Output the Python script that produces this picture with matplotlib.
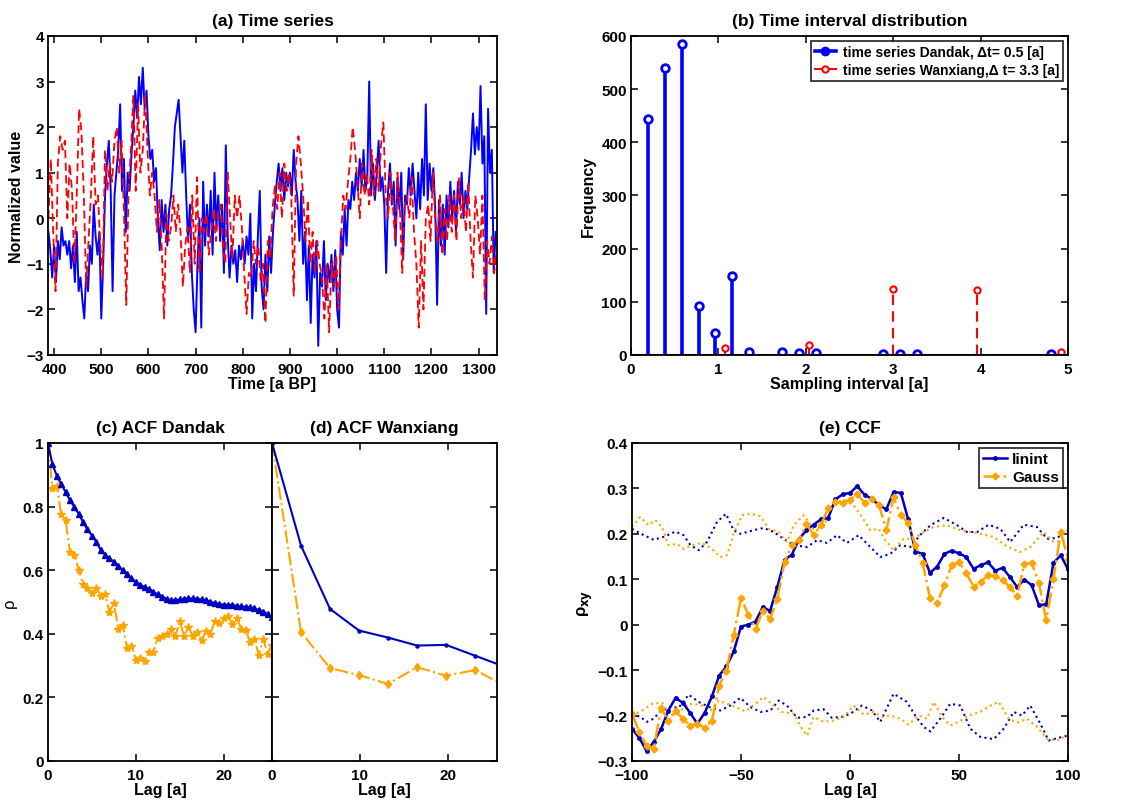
import numpy as np
import matplotlib
matplotlib.use("Agg")
import matplotlib.pyplot as plt
from matplotlib.lines import Line2D

plt.rcParams['font.family'] = ['Liberation Sans', 'DejaVu Sans']
plt.rcParams['font.weight'] = 'bold'
plt.rcParams['axes.labelweight'] = 'bold'
plt.rcParams['axes.titleweight'] = 'bold'
plt.rcParams['mathtext.fontset'] = 'dejavusans'
plt.rcParams['axes.linewidth'] = 1.3
for ax_ in ('xtick', 'ytick'):
    plt.rcParams[f'{ax_}.direction'] = 'in'
    plt.rcParams[f'{ax_}.major.size'] = 5
    plt.rcParams[f'{ax_}.major.width'] = 1.1
    plt.rcParams[f'{ax_}.labelsize'] = 11
plt.rcParams['xtick.top'] = True
plt.rcParams['ytick.right'] = True

BLUE = '#0000FF'
RED = '#FF0000'
DBLUE = '#0000C0'
ORANGE = '#FFA500'

# ---------------- (a) time series ----------------
dandak_time = np.arange(388, 1337, 4)
dandak_value = [
    -0.3, -0.7, -1.3, -0.6, -1.4, -0.5, -0.9, -0.2, -0.6, -0.5,
    -0.8, -0.5, -1.1, -0.6, -1.4, -0.3, -1.6, -1.3, -1.8, -2.2,
    -1.2, -1.6, -0.6, -1.0, 0.3, -0.4, -0.8, -0.3, -2.2, -1.0,
    0.5, 1.2, 1.7, 0.6, -1.6, 0.5, 1.0, 1.5, 2.5, 0.6,
    1.3, -0.3, 1.0, 0.6, 1.4, 2.0, 2.8, 2.2, 3.1, 2.5,
    3.3, 2.4, 2.8, 1.8, 1.3, 1.5, 0.8, 1.1, 0.0, -0.7,
    0.4, -0.3, 0.3, -0.6, 0.2, 0.5, 1.2, 2.0, 2.3, 2.6,
    1.8, 1.0, 1.7, 0.5, -0.5, 0.3, -1.2, -2.0, -2.5, -1.0,
    0.0, -2.4, 0.8, -0.6, 0.3, -0.4, 0.6, -0.8, 1.0, -0.2,
    0.5, -0.5, 0.3, -1.2, 1.6, -0.4, -1.3, -0.6, -1.0, -0.7,
    -1.4, -0.6, -0.9, -0.5, -1.0, -0.4, -0.8, 0.1, -2.2, -1.0,
    -1.6, -0.4, 0.6, -1.5, -2.0, -0.8, -1.6, -0.4, -1.2, -0.3,
    0.3, 0.8, 1.2, 0.6, 1.1, 0.4, 1.0, 0.7, 1.0, 0.5,
    1.5, 0.8, 0.4, -0.5, 0.6, -1.0, -0.3, -1.8, -0.6, -2.3,
    -0.8, -1.3, -0.5, -2.8, -1.2, -1.5, -0.5, -1.8, -1.0, -1.4,
    -0.8, -1.6, -0.7, -2.0, -2.4, -0.3, -0.8, 0.2, -0.6, 0.4,
    0.2, 0.8, 0.4, 1.0, 0.6, 1.3, 0.7, 1.5, 0.6, 0.9,
    3.0, 0.5, 1.2, 0.4, 1.0, 1.7, 0.6, 0.9, 0.3, -1.2,
    0.6, 1.2, 0.3, 0.8, -0.6, 0.9, 0.2, 1.0, -0.9, 0.5,
    0.3, 1.1, 0.5, 1.2, 0.6, 0.0, 1.0, 0.2, 1.3, 0.5,
    2.5, 0.4, 1.2, 0.6, 1.1, 0.2, -1.9, 0.4, -0.6, 0.3,
    -0.8, 0.5, -0.2, 0.8, 0.0, 0.6, -0.3, 0.8, 0.3, 1.0,
    0.0, 0.6, 0.2, 0.9, 1.5, 2.3, 1.4, 2.0, 1.5, 2.9,
    1.2, 1.8, -2.1, 2.4, 1.0, 1.5, -1.2, -0.3,
]

wanxiang_time = np.arange(388, 1339, 5)
wanxiang_value = [
    0.0, 1.3, -0.3, -1.6, 1.2, 1.8, 1.5, 1.7, 0.0, 1.2,
    0.6, -1.0, 0.5, 2.4, 1.9, 0.5, -1.5, -0.5, 0.5, 1.8,
    0.3, 0.5, -0.6, -1.3, 1.5, 0.6, 1.2, 0.8, 1.7, 2.0,
    1.0, 1.7, 0.2, -1.9, 0.7, 1.5, 2.7, 0.6, 2.5, 1.0,
    1.5, 2.7, 1.5, 0.5, 1.0, 0.5, -0.3, 0.4, -0.6, -2.2,
    0.1, -0.5, -0.2, 0.5, -0.3, 0.3, -0.3, -1.5, -0.6, -0.2,
    -1.2, 0.5, -1.0, 0.9, -1.2, 0.0, -0.3, 0.1, -0.8, -0.3,
    0.2, -0.5, 0.2, 0.3, -0.7, -1.0, 1.0, 0.0, -0.9, 0.5,
    0.0, 0.5, -0.2, -1.2, -2.1, -1.2, -1.3, -0.5, -1.0, -0.6,
    -1.4, -1.0, -2.3, -0.5, -0.9, 0.2, 0.7, 0.2, 1.0, 0.0,
    1.2, 0.6, 1.0, 0.4, -1.7, 1.2, 1.8, 1.2, 0.5, -0.5,
    0.4, -1.0, -0.3, -1.2, -0.5, -1.0, -1.3, -2.2, -1.0, -2.5,
    -1.0, -1.5, -0.8, -2.0, -0.5, 0.5, 0.2, 0.8, 1.3, 2.0,
    1.5, 0.8, 0.0, 1.2, 0.5, 1.0, 0.3, 1.5, 0.5, 1.3,
    0.6, 1.6, 2.1, 0.5, 0.0, 1.0, 0.3, -0.5, 1.0, 0.2,
    -1.2, 0.3, 0.5, 0.0, 0.9, -0.3, -1.0, -2.4, -0.5, -2.0,
    0.0, 0.3, -0.5, 1.0, 0.0, -0.5, 0.5, -0.8, 0.2, -0.5,
    0.5, -0.3, 0.5, -0.5, 0.9, 0.0, 0.5, -0.3, 0.8, -0.5,
    -1.3, 0.5, 0.0, -0.8, 0.5, -1.8, -0.5, -1.0, -0.4, -1.2,
    -0.7,
]

# ---------------- (b) sampling interval distribution ----------------
dandak_interval = [0.195, 0.389, 0.58, 0.774, 0.965, 1.156, 1.35, 1.73,
                   1.926, 2.117, 2.883, 3.074, 3.268, 4.80]
dandak_count = [444, 540, 584, 93, 41, 149, 6, 6, 4, 4, 1, 2, 1, 1]
wanxiang_interval = [1.075, 2.037, 2.998, 3.959, 4.92]
wanxiang_count = [12.6, 19, 125, 123, 5]

# ---------------- (c) ACF Dandak ----------------
acf_d_lag = np.arange(0, 25.51, 0.5)
acf_d_linint = [
    1.0, 0.934, 0.897, 0.871, 0.846, 0.82, 0.799, 0.777, 0.751, 0.728,
    0.709, 0.69, 0.664, 0.648, 0.637, 0.627, 0.614, 0.60, 0.587, 0.574,
    0.563, 0.553, 0.548, 0.54, 0.532, 0.524, 0.517, 0.51, 0.505, 0.506,
    0.508, 0.51, 0.511, 0.511, 0.51, 0.508, 0.505, 0.50, 0.497, 0.493,
    0.492, 0.491, 0.49, 0.488, 0.486, 0.485, 0.483, 0.48, 0.475, 0.47,
    0.462, 0.452,
]
acf_d_gauss = [
    1.0, 0.857, 0.865, 0.777, 0.758, 0.657, 0.648, 0.60, 0.556, 0.545,
    0.528, 0.545, 0.519, 0.524, 0.47, 0.497, 0.415, 0.429, 0.355, 0.363,
    0.319, 0.323, 0.313, 0.344, 0.342, 0.388, 0.392, 0.40, 0.415, 0.392,
    0.44, 0.393, 0.42, 0.392, 0.405, 0.379, 0.41, 0.40, 0.44, 0.435,
    0.451, 0.456, 0.43, 0.451, 0.415, 0.413, 0.373, 0.384, 0.334, 0.385,
    0.337, 0.365,
]

# ---------------- (d) ACF Wanxiang ----------------
acf_w_lag = [0, 3.3, 6.6, 9.9, 13.2, 16.5, 19.8, 23.1, 26.4]
acf_w_linint = [1.0, 0.677, 0.478, 0.41, 0.388, 0.363, 0.365, 0.331, 0.297]
acf_w_gauss = [1.0, 0.405, 0.292, 0.27, 0.242, 0.295, 0.268, 0.286, 0.238]

# ---------------- (e) CCF ----------------
ccf_lag = np.linspace(-100, 100, 61)
ccf_linint = [
    -0.229, -0.249, -0.278, -0.258, -0.230, -0.189, -0.161, -0.172, -0.194, -0.218,
    -0.194, -0.158, -0.112, -0.092, -0.059, -0.004, 0.0, 0.007, 0.039, 0.030,
    0.083, 0.143, 0.154, 0.189, 0.208, 0.22, 0.232, 0.235, 0.276, 0.287,
    0.29, 0.305, 0.286, 0.277, 0.263, 0.254, 0.292, 0.29, 0.232, 0.161,
    0.156, 0.114, 0.128, 0.156, 0.163, 0.157, 0.149, 0.123, 0.131, 0.137,
    0.119, 0.125, 0.105, 0.083, 0.099, 0.087, 0.043, 0.045, 0.136, 0.153, 0.122,
]
ccf_gauss = [
    -0.196, -0.236, -0.266, -0.274, -0.183, -0.211, -0.191, -0.207, -0.222, -0.218,
    -0.227, -0.211, -0.134, -0.101, -0.023, 0.059, 0.022, -0.010, 0.030, 0.013,
    0.057, 0.138, 0.175, 0.186, 0.222, 0.198, 0.219, 0.257, 0.27, 0.268,
    0.274, 0.288, 0.268, 0.276, 0.263, 0.208, 0.28, 0.241, 0.224, 0.175,
    0.136, 0.059, 0.048, 0.087, 0.131, 0.138, 0.114, 0.084, 0.094, 0.109,
    0.107, 0.098, 0.083, 0.063, 0.134, 0.136, 0.092, 0.010, 0.10, 0.204, 0.145,
]

# significance bounds
ci_linint_up_lag = [-100, -94.6, -90.1, -85.5, -80.1, -76.3, -73.2, -69.4, -65.6, -61.0,
                    -56.9, -53.4, -50.3, -44.2, -39.6, -35.0, -30.4, -25.8, -19.7, -15.1,
                    -10.6, -6.0, -1.4, 4.0, 9.3, 13.9, 18.5, 23.1, 27.7, 32.3,
                    36.9, 43.0, 49.1, 53.7, 58.3, 63.6, 69.0, 73.5, 79.7, 85.8,
                    90.4, 95.0, 100]
ci_linint_up = [0.211, 0.197, 0.187, 0.193, 0.205, 0.197, 0.175, 0.164, 0.182, 0.226,
                0.244, 0.208, 0.200, 0.208, 0.213, 0.204, 0.189, 0.175, 0.171, 0.186,
                0.180, 0.197, 0.180, 0.197, 0.171, 0.149, 0.156, 0.175, 0.171, 0.198,
                0.219, 0.235, 0.219, 0.204, 0.204, 0.220, 0.211, 0.182, 0.220, 0.215,
                0.189, 0.191, 0.208]
ci_gauss_up_lag = [-100, -96.2, -92.4, -89.3, -86.2, -83.2, -79.4, -76.3, -72.5, -67.9,
                   -63.3, -59.5, -56.4, -53.4, -49.5, -45.7, -41.1, -37.3, -32.7, -28.9,
                   -25.8, -21.3, -16.7, -12.1, -7.5, -2.1, 1.7, 5.5, 9.3, 13.1,
                   16.2, 20.0, 24.6, 29.2, 33.8, 38.4, 44.5, 50.6, 58.3, 65.9,
                   72.0, 78.1, 82.7, 88.8, 93.4, 100]
ci_gauss_up = [0.215, 0.237, 0.219, 0.23, 0.215, 0.175, 0.178, 0.167, 0.175, 0.180,
               0.167, 0.149, 0.153, 0.200, 0.241, 0.244, 0.239, 0.211, 0.204, 0.182,
               0.219, 0.241, 0.211, 0.215, 0.270, 0.274, 0.263, 0.237, 0.208, 0.211,
               0.186, 0.164, 0.189, 0.189, 0.204, 0.215, 0.219, 0.208, 0.202, 0.193,
               0.172, 0.160, 0.171, 0.204, 0.182, 0.186]
ci_linint_lo_lag = [-100, -96.2, -93.1, -90.1, -87.0, -82.4, -78.6, -74.0, -69.4, -64.8,
                    -59.5, -54.9, -50.3, -45.7, -41.1, -36.5, -32.7, -28.9, -24.3, -19.7,
                    -16.7, -12.1, -8.3, -3.7, 0.2, 5.5, 10.1, 13.9, 20.0, 26.1,
                    29.9, 33.8, 36.9, 41.4, 46.0, 50.6, 55.2, 59.8, 65.9, 70.5,
                    75.1, 78.9, 82.7, 87.3, 91.1, 95.7, 100]
ci_linint_lo = [-0.196, -0.203, -0.214, -0.207, -0.191, -0.181, -0.183, -0.154, -0.170, -0.181,
                -0.189, -0.178, -0.161, -0.181, -0.192, -0.189, -0.167, -0.178, -0.205, -0.203,
                -0.189, -0.186, -0.205, -0.203, -0.196, -0.178, -0.189, -0.214, -0.152, -0.170,
                -0.200, -0.225, -0.235, -0.207, -0.174, -0.178, -0.229, -0.247, -0.252, -0.229,
                -0.192, -0.200, -0.178, -0.218, -0.255, -0.249, -0.244]
ci_gauss_lo_lag = [-100, -95.4, -90.8, -86.2, -82.4, -77.8, -74.0, -68.7, -64.1, -60.2,
                   -56.4, -52.6, -48.0, -43.4, -39.6, -35.0, -31.2, -25.8, -22.0, -19.7,
                   -16.7, -12.1, -7.5, -2.9, 1.7, 6.3, 10.9, 14.7, 18.5, 23.1,
                   26.9, 31.5, 35.3, 38.4, 42.2, 46.0, 49.8, 54.4, 59.8, 64.4,
                   68.2, 72.8, 76.6, 81.2, 85.8, 90.4, 95.0, 100]
ci_gauss_lo = [-0.200, -0.189, -0.174, -0.172, -0.200, -0.189, -0.174, -0.176, -0.189, -0.167,
               -0.174, -0.181, -0.191, -0.174, -0.159, -0.178, -0.192, -0.196, -0.229, -0.244,
               -0.203, -0.214, -0.211, -0.203, -0.178, -0.198, -0.192, -0.203, -0.200, -0.207,
               -0.220, -0.200, -0.207, -0.170, -0.203, -0.222, -0.214, -0.200, -0.192, -0.178,
               -0.170, -0.207, -0.216, -0.207, -0.225, -0.251, -0.255, -0.244]

TITLE_FS = 12.5
LABEL_FS = 11.5
TITLE_PAD = 8

fig = plt.figure(figsize=(11.34, 8.03), dpi=100)
fig.patch.set_facecolor('white')

# (a)
ax_a = fig.add_axes([0.0423, 0.5567, 0.396, 0.3973])
ax_a.plot(dandak_time, dandak_value, color=BLUE, lw=1.4)
ax_a.plot(wanxiang_time, wanxiang_value, color=RED, lw=1.3, ls=(0, (4.5, 2.5)))
ax_a.set_xlim(387, 1339)
ax_a.set_ylim(-3, 4)
ax_a.set_xticks(np.arange(400, 1301, 100))
ax_a.set_yticks(np.arange(-3, 5, 1))
ax_a.set_title('(a) Time series', fontsize=TITLE_FS, pad=TITLE_PAD)
ax_a.set_xlabel('Time [a BP]', fontsize=LABEL_FS, labelpad=0)
ax_a.set_ylabel('Normalized value', fontsize=LABEL_FS, labelpad=2)

# (b)
ax_b = fig.add_axes([0.5564, 0.5567, 0.3854, 0.3973])
ax_b.vlines(dandak_interval, 0, dandak_count, color=BLUE, lw=2.6)
ax_b.plot(dandak_interval, dandak_count, 'o', ms=5.5, mfc='white', mec=BLUE, mew=2)
ax_b.vlines(wanxiang_interval, 0, wanxiang_count, color=RED, lw=1.5,
            linestyles=[(0, (5, 3))])
ax_b.plot(wanxiang_interval, wanxiang_count, 'o', ms=4.5, mfc='white', mec=RED, mew=1.5)
ax_b.axhline(0, color='black', lw=2.2)
ax_b.set_xlim(0, 5)
ax_b.set_ylim(0, 600)
ax_b.set_xticks(np.arange(0, 6, 1))
ax_b.set_yticks(np.arange(0, 601, 100))
ax_b.set_title('(b) Time interval distribution', fontsize=TITLE_FS, pad=TITLE_PAD)
ax_b.set_xlabel('Sampling interval [a]', fontsize=LABEL_FS, labelpad=0)
ax_b.set_ylabel('Frequency', fontsize=LABEL_FS, labelpad=4)
h_b = [Line2D([], [], color=BLUE, lw=2.6, marker='o', ms=5, mfc=BLUE, mec=BLUE, mew=2),
       Line2D([], [], color=RED, lw=1.5, ls='-', marker='o', ms=4.5, mfc='white',
              mec=RED, mew=1.5)]
leg_b = ax_b.legend(h_b, ['time series Dandak, \u0394t= 0.5 [a]',
                          'time series Wanxiang,\u0394 t= 3.3 [a]'],
                    loc='upper right', fontsize=10, frameon=True, fancybox=False,
                    handlelength=1.5, handletextpad=0.5, borderaxespad=0.35,
                    borderpad=0.3, labelspacing=0.3, markerfirst=True)
leg_b.get_frame().set_edgecolor('black')
leg_b.get_frame().set_linewidth(1.3)

# (c)
ax_c = fig.add_axes([0.0423, 0.0511, 0.1975, 0.396])
ax_c.plot(acf_d_lag, acf_d_gauss, color=ORANGE, ls='-.', lw=1.5, marker='*', ms=6,
          mec=ORANGE, mfc=ORANGE)
ax_c.plot(acf_d_lag, acf_d_linint, color=DBLUE, lw=1.5, marker='^', ms=4.5,
          mec=DBLUE, mfc=DBLUE)
ax_c.set_xlim(0, 25.5)
ax_c.set_ylim(0, 1)
ax_c.set_xticks([0, 10, 20])
ax_c.set_yticks([0, 0.2, 0.4, 0.6, 0.8, 1.0])
ax_c.set_yticklabels(['0', '0.2', '0.4', '0.6', '0.8', '1'])
ax_c.set_title('(c) ACF Dandak', fontsize=TITLE_FS, pad=TITLE_PAD)
ax_c.set_xlabel('Lag [a]', fontsize=LABEL_FS, labelpad=0)
ax_c.set_ylabel('\u03c1', fontsize=12, fontweight='normal', labelpad=4)

# (d)
ax_d = fig.add_axes([0.2399, 0.0511, 0.1984, 0.396])
ax_d.plot(acf_w_lag, acf_w_gauss, color=ORANGE, ls='-.', lw=1.5, marker='d', ms=4.5,
          mec=ORANGE, mfc=ORANGE)
ax_d.plot(acf_w_lag, acf_w_linint, color=DBLUE, lw=1.5, marker='.', ms=4.5)
ax_d.set_xlim(0, 25.6)
ax_d.set_ylim(0, 1)
ax_d.set_xticks([0, 10, 20])
ax_d.set_yticks([0, 0.2, 0.4, 0.6, 0.8, 1.0])
ax_d.set_yticklabels([])
ax_d.set_title('(d) ACF Wanxiang', fontsize=TITLE_FS, pad=TITLE_PAD)
ax_d.set_xlabel('Lag [a]', fontsize=LABEL_FS, labelpad=0)

# (e)
ax_e = fig.add_axes([0.5573, 0.0511, 0.3845, 0.396])
ax_e.plot(ci_linint_up_lag, ci_linint_up, color=DBLUE, ls=':', lw=1.5)
ax_e.plot(ci_linint_lo_lag, ci_linint_lo, color=DBLUE, ls=':', lw=1.5)
ax_e.plot(ci_gauss_up_lag, ci_gauss_up, color=ORANGE, ls=':', lw=1.5)
ax_e.plot(ci_gauss_lo_lag, ci_gauss_lo, color=ORANGE, ls=':', lw=1.5)
l_lin, = ax_e.plot(ccf_lag, ccf_linint, color=DBLUE, lw=1.8, marker='.', ms=5)
l_gau, = ax_e.plot(ccf_lag, ccf_gauss, color=ORANGE, lw=1.8, ls='-.', marker='D', ms=3.5,
                   mfc=ORANGE, mec=ORANGE)
ax_e.set_xlim(-100, 100)
ax_e.set_ylim(-0.3, 0.4)
ax_e.set_xticks([-100, -50, 0, 50, 100])
ax_e.set_yticks([-0.3, -0.2, -0.1, 0, 0.1, 0.2, 0.3, 0.4])
ax_e.set_yticklabels(['\u22120.3', '\u22120.2', '\u22120.1', '0', '0.1', '0.2', '0.3', '0.4'])
ax_e.set_title('(e) CCF', fontsize=TITLE_FS, pad=TITLE_PAD)
ax_e.set_xlabel('Lag [a]', fontsize=LABEL_FS, labelpad=0)
ax_e.set_ylabel(r'$\mathregular{\rho}_{\mathbf{xy}}$', fontsize=12, labelpad=2)
leg_e = ax_e.legend([l_lin, l_gau], ['linint', 'Gauss'], loc='upper right', fontsize=11,
                    frameon=True, fancybox=False, handlelength=1.6, handletextpad=0.3,
                    borderaxespad=0.35, borderpad=0.25, labelspacing=0.25)
leg_e.get_frame().set_edgecolor('black')
leg_e.get_frame().set_linewidth(1.3)

for a in (ax_a, ax_b, ax_c, ax_d, ax_e):
    a.tick_params(axis='x', which='both', pad=5)
    a.tick_params(axis='y', which='both', pad=3)
    for lab in a.get_xticklabels() + a.get_yticklabels():
        lab.set_fontweight('bold')

fig.savefig('out.png', dpi=100, facecolor='white')
